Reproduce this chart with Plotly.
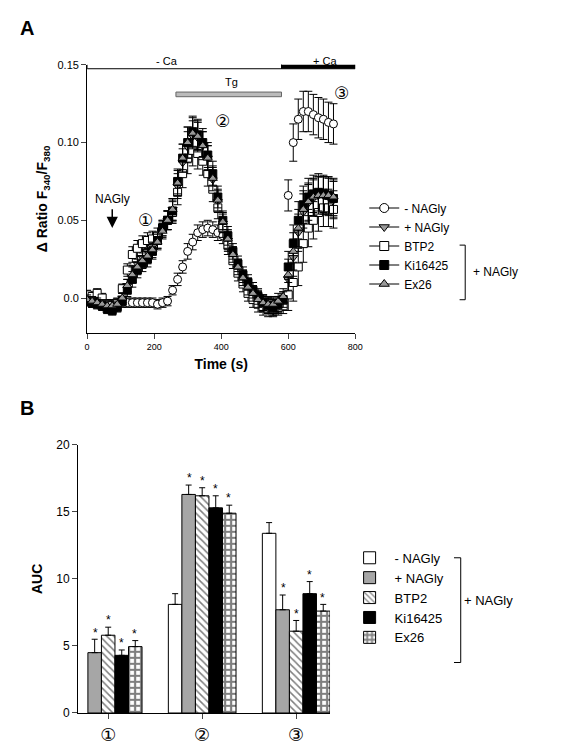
import plotly.graph_objects as go

# ---------- Panel A data ----------
t = [i*15 for i in range(50)]
minus_nagly = [-0.002,-0.003,-0.003,-0.003,-0.004,-0.004,-0.004,-0.003,-0.003,-0.003,-0.003,-0.003,-0.003,-0.003,-0.004,-0.003,-0.002,0.005,0.012,0.02,0.03,0.036,0.042,0.044,0.045,0.044,0.042,0.04,0.035,0.028,0.02,0.013,0.008,0.003,0.0,-0.003,-0.005,-0.006,-0.005,-0.003,0.066,0.1,0.115,0.12,0.12,0.118,0.116,0.115,0.113,0.112]
minus_err = [0.003]*17 + [0.003,0.004,0.004,0.005,0.005,0.005,0.005,0.005,0.005,0.005,0.005,0.005,0.005,0.005,0.005,0.005,0.005,0.005,0.005,0.005,0.005,0.005,0.005,0.01,0.012,0.013,0.013,0.013,0.013,0.013,0.013,0.013,0.013]
plus_nagly = [0.0,-0.001,-0.002,-0.004,-0.005,-0.006,-0.004,0.0,0.008,0.016,0.022,0.026,0.03,0.033,0.037,0.044,0.05,0.057,0.072,0.087,0.097,0.104,0.103,0.098,0.09,0.076,0.062,0.048,0.037,0.027,0.019,0.012,0.006,0.002,-0.001,-0.004,-0.005,-0.005,-0.004,-0.001,0.012,0.026,0.042,0.055,0.061,0.064,0.066,0.066,0.065,0.063]
btp2 = [0.002,0.001,0.003,0.0,-0.004,-0.005,-0.003,0.006,0.018,0.028,0.032,0.035,0.037,0.038,0.04,0.045,0.05,0.055,0.068,0.08,0.09,0.095,0.093,0.088,0.08,0.07,0.058,0.045,0.034,0.024,0.016,0.009,0.003,-0.001,-0.004,-0.006,-0.007,-0.007,-0.006,-0.005,0.002,0.01,0.02,0.035,0.045,0.05,0.055,0.058,0.058,0.057]
ki16425 = [-0.002,-0.003,-0.004,-0.005,-0.007,-0.008,-0.006,-0.002,0.005,0.012,0.018,0.022,0.025,0.03,0.037,0.045,0.05,0.056,0.075,0.09,0.1,0.107,0.105,0.1,0.092,0.08,0.065,0.05,0.04,0.03,0.022,0.015,0.01,0.005,0.001,-0.003,-0.005,-0.006,-0.004,-0.001,0.02,0.035,0.05,0.06,0.065,0.067,0.068,0.067,0.066,0.064]
ex26 = [-0.001,-0.002,-0.003,-0.004,-0.005,-0.005,-0.004,0.0,0.008,0.015,0.02,0.024,0.027,0.031,0.036,0.043,0.05,0.057,0.074,0.09,0.1,0.106,0.104,0.098,0.09,0.077,0.063,0.049,0.038,0.028,0.02,0.013,0.007,0.003,-0.001,-0.003,-0.004,-0.004,-0.002,0.001,0.015,0.03,0.045,0.057,0.062,0.065,0.066,0.066,0.066,0.065]
grp_err = [0.003]*8 + [0.004,0.005,0.005,0.005,0.005,0.005,0.005,0.005,0.006,0.007,0.008,0.009,0.01,0.01,0.01,0.009,0.008,0.008,0.007,0.006,0.006,0.005,0.005,0.005,0.005,0.005,0.005,0.005,0.005,0.005,0.005,0.005,0.01,0.012,0.012,0.012,0.012,0.012,0.012,0.012,0.012,0.012]

# ---------- Panel B data ----------
groups = [0, 1, 2]
group_labels = ["①", "②", "③"]
auc_names = ["- NAGly", "+ NAGly", "BTP2", "Ki16425", "Ex26"]
auc_vals = [[None, 8.1, 13.4], [4.5, 16.3, 7.7], [5.8, 16.2, 6.1], [4.3, 15.3, 8.9], [4.95, 14.9, 7.6]]
auc_err = [[None, 0.8, 0.8], [1.0, 0.7, 1.1], [0.6, 0.6, 0.8], [0.4, 0.9, 0.9], [0.45, 0.6, 0.5]]
stars = [[False, False, False], [True, True, True], [True, True, True], [True, True, True], [True, True, True]]

fig = go.Figure()
F = "Arial"
CF = "DejaVu Sans"
series = [("- NAGly", minus_nagly, minus_err, "circle", "white"),
          ("+ NAGly", plus_nagly, grp_err, "triangle-down", "#999999"),
          ("BTP2", btp2, grp_err, "square", "white"),
          ("Ki16425", ki16425, grp_err, "square", "black"),
          ("Ex26", ex26, grp_err, "triangle-up", "#999999")]
for name, y, e, sym, col in series:
    fig.add_trace(go.Scatter(x=t, y=y, mode="markers", xaxis="x", yaxis="y", showlegend=False,
        marker=dict(symbol=sym, size=8, color=col, line=dict(color="black", width=1)),
        error_y=dict(array=e, color="black", thickness=1, width=4)))
    fig.add_trace(go.Scatter(x=[None], y=[None], mode="lines+markers", name=name, legend="legend",
        xaxis="x", yaxis="y",
        marker=dict(symbol=sym, size=9, color=col, line=dict(color="black", width=1)),
        line=dict(color="black", width=1)))

bar_styles = [dict(color="white"), dict(color="#a6a6a6"),
              dict(color="white", pattern=dict(shape="\\", fgcolor="black", size=5, solidity=0.3)),
              dict(color="black"),
              dict(color="white", pattern=dict(shape="+", fgcolor="black", size=6, solidity=0.6))]
for k in range(5):
    m = dict(bar_styles[k]); m["line"] = dict(color="black", width=1)
    fig.add_trace(go.Bar(x=groups, y=auc_vals[k], name=auc_names[k], xaxis="x2", yaxis="y2",
        legend="legend2", marker=m,
        error_y=dict(type="data", array=auc_err[k], color="black", thickness=1, width=3, symmetric=False, arrayminus=[0,0,0])))
ann = []
for k in range(5):
    for g in range(3):
        if stars[k][g] and auc_vals[k][g] is not None:
            ann.append(dict(x=g + (k-2)*0.138, y=auc_vals[k][g]+auc_err[k][g]+0.5, xref="x2", yref="y2",
                            text="*", showarrow=False, font=dict(size=12, family=F)))

fig.update_layout(
    width=561, height=748, margin=dict(l=0, r=0, t=0, b=0, autoexpand=False), paper_bgcolor="white", plot_bgcolor="white",
    barmode="group", bargap=0.28, bargroupgap=0,
    font=dict(family=F, color="black", size=12),
    xaxis=dict(domain=[0.141, 0.619], anchor="y", range=[0, 800], tickvals=[0,200,400,600,800],
               showline=True, linecolor="black", ticks="outside", ticklen=5, showgrid=False, zeroline=False,
               tickfont=dict(size=9), title=dict(text="<b>Time (s)</b>", font=dict(size=14), standoff=8)),
    yaxis=dict(domain=[0.5655, 0.924], anchor="x", range=[-0.0225, 0.15], tickvals=[0,0.05,0.1,0.15],
               ticktext=["0.0","0.05","0.10","0.15"], showline=True, linecolor="black", ticks="outside",
               ticklen=5, showgrid=False, zeroline=False, tickfont=dict(size=11),
               title=dict(text="<b>Δ Ratio F<sub>340</sub>/F<sub>380</sub></b>", font=dict(size=14), standoff=6)),
    xaxis2=dict(domain=[0.125, 0.574], anchor="y2", range=[-0.32, 2.36], tickvals=groups, ticktext=group_labels,
                showline=True, linecolor="black", ticks="outside", ticklen=5, showgrid=False, zeroline=False,
                tickfont=dict(size=18, family=CF)),
    yaxis2=dict(domain=[0.0575, 0.416], anchor="x2", range=[0, 20], tickvals=[0,5,10,15,20],
                showline=True, linecolor="black", ticks="outside", ticklen=5, showgrid=False, zeroline=False,
                tickfont=dict(size=12), title=dict(text="<b>AUC</b>", font=dict(size=14), standoff=10)),
    legend=dict(x=0.635, y=0.752, xanchor="left", yanchor="top", font=dict(size=12), tracegroupgap=0,
                itemwidth=30, bgcolor="rgba(0,0,0,0)"),
    legend2=dict(x=0.6, y=0.285, xanchor="left", yanchor="top", font=dict(size=13), tracegroupgap=0,
                 itemwidth=40, bgcolor="rgba(0,0,0,0)"),
)
shapes = [
    dict(type="rect", xref="x", yref="y", x0=0, x1=580, y0=0.1475, y1=0.1525, fillcolor="white", line=dict(color="black", width=1)),
    dict(type="rect", xref="x", yref="y", x0=580, x1=800, y0=0.1475, y1=0.1525, fillcolor="black", line=dict(color="black", width=1)),
    dict(type="rect", xref="x", yref="y", x0=265, x1=580, y0=0.1295, y1=0.1325, fillcolor="#bbbbbb", line=dict(color="#666666", width=1)),
    dict(type="path", xref="paper", yref="paper", path="M 0.805 0.683 L 0.815 0.683 L 0.815 0.610 L 0.805 0.610", line=dict(color="black", width=1)),
    dict(type="path", xref="paper", yref="paper", path="M 0.795 0.265 L 0.807 0.265 L 0.807 0.125 L 0.795 0.125", line=dict(color="black", width=1)),
]
ann += [
    dict(x=0.018, y=0.99, xref="paper", yref="paper", text="<b>A</b>", showarrow=False, font=dict(size=20), xanchor="left"),
    dict(x=0.018, y=0.465, xref="paper", yref="paper", text="<b>B</b>", showarrow=False, font=dict(size=20), xanchor="left"),
    dict(x=0.26, y=0.94, xref="paper", yref="paper", text="- Ca", showarrow=False, font=dict(size=11)),
    dict(x=0.565, y=0.94, xref="paper", yref="paper", text="+ Ca", showarrow=False, font=dict(size=11)),
    dict(x=430, y=0.139, xref="x", yref="y", text="Tg", showarrow=False, font=dict(size=11)),
    dict(x=75, y=0.064, xref="x", yref="y", text="NAGly", showarrow=False, font=dict(size=12)),
    dict(x=75, y=0.045, ax=75, ay=0.058, xref="x", yref="y", axref="x", ayref="y", text="", showarrow=True,
         arrowhead=2, arrowsize=1.5, arrowwidth=1.5, arrowcolor="black"),
    dict(x=175, y=0.05, xref="x", yref="y", text="①", showarrow=False, font=dict(size=17, family=CF)),
    dict(x=405, y=0.114, xref="x", yref="y", text="②", showarrow=False, font=dict(size=17, family=CF)),
    dict(x=760, y=0.132, xref="x", yref="y", text="③", showarrow=False, font=dict(size=17, family=CF)),
    dict(x=0.825, y=0.647, xref="paper", yref="paper", text="+ NAGly", showarrow=False, xanchor="left", font=dict(size=12)),
    dict(x=0.81, y=0.195, xref="paper", yref="paper", text="+ NAGly", showarrow=False, xanchor="left", font=dict(size=13)),
]
fig.update_layout(shapes=shapes, annotations=ann)
fig.write_html("out.html")
